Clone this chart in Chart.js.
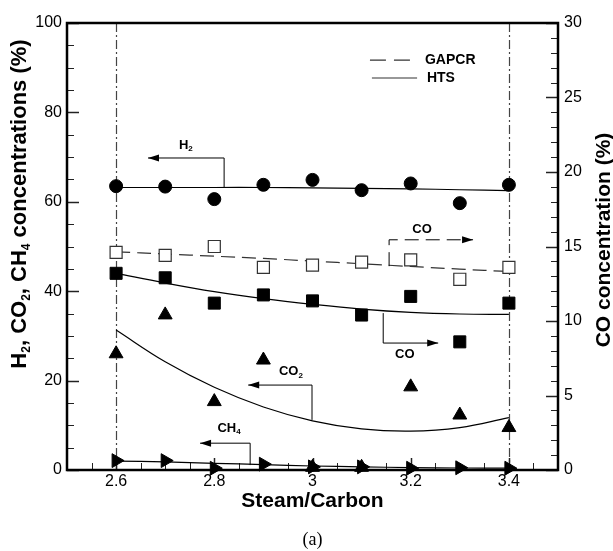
<!DOCTYPE html>
<html>
<head>
<meta charset="utf-8">
<script src="https://cdn.jsdelivr.net/npm/chart.js@4.4.0/dist/chart.umd.min.js"></script>
<style>
  html, body { margin: 0; padding: 0; background: #fff; }
  #wrap { width: 613px; height: 551px; position: relative; }
</style>
</head>
<body>
<div id="wrap"><canvas id="gasChart"></canvas></div>
<script>
// Datos (steam/carbon ratio)
const steamCarbon = [2.6, 2.7, 2.8, 2.9, 3.0, 3.1, 3.2, 3.3, 3.4];

// eje izquierdo (%)
const h2Measured  = [63.5, 63.4, 60.6, 63.8, 64.9, 62.6, 64.1, 59.7, 63.8];
const h2Model     = [63.2, 63.2, 63.2, 63.2, 63.1, 63.0, 62.9, 62.7, 62.5];
const co2Measured = [26.0, 34.7, 15.3, 24.6, 0.6, 0.6, 18.6, 12.3, 9.5];
const co2Model    = [31.3, 24.2, 18.5, 14.1, 11.0, 9.2, 8.7, 9.5, 11.7];
const ch4Measured = [2.1, 2.1, 0.4, 1.3, 0.7, 0.7, 0.4, 0.5, 0.4];
const ch4Model    = [2.0, 1.8, 1.5, 1.2, 0.9, 0.7, 0.55, 0.45, 0.4];

// eje derecho, CO (%)
const coGapcrMeasured = [14.6, 14.4, 15.0, 13.6, 13.75, 13.95, 14.1, 12.8, 13.6];
const coGapcrModel    = [14.64, 14.5, 14.35, 14.2, 14.02, 13.84, 13.66, 13.48, 13.32];
const coHtsMeasured   = [13.2, 12.9, 11.2, 11.75, 11.35, 10.4, 11.65, 8.6, 11.2];
const coHtsModel      = [13.2, 12.55, 11.97, 11.5, 11.12, 10.8, 10.58, 10.47, 10.44];

// ticks
const xTicks = [2.6, 2.8, 3.0, 3.2, 3.4];
const leftTicks = [0, 20, 40, 60, 80, 100];
const rightTicks = [0, 5, 10, 15, 20, 25, 30];

const pts = arr => arr.map((v, i) => ({ x: steamCarbon[i], y: v }));

const FONT = "'Liberation Sans', Arial, sans-serif";

// flechas de anotacion (coordenadas de datos, eje izquierdo)
const notes = [
  { main: 'H',  sub: '2', from: [2.82, 63.1],  corner: [2.82, 69.8],  to: [2.665, 69.8], text: [2.742, 72.7], dashed: false },
  { main: 'CO', sub: '',  from: [3.156, 45.6], corner: [3.156, 51.5], to: [3.327, 51.5], text: [3.223, 53.9], dashed: true },
  { main: 'CO', sub: '',  from: [3.144, 35.1], corner: [3.144, 28.4], to: [3.256, 28.4], text: [3.188, 25.9], dashed: false },
  { main: 'CO', sub: '2', from: [2.999, 11.2], corner: [2.999, 19.0], to: [2.869, 19.0], text: [2.956, 22.0], dashed: false },
  { main: 'CH', sub: '4', from: [2.873, 1.1],  corner: [2.873, 6.0],  to: [2.771, 6.0],  text: [2.83, 9.4],  dashed: false }
];

function richText(ctx, parts, cx, cy, size, subSize) {
  let w = 0;
  parts.forEach(p => {
    ctx.font = 'bold ' + (p.sub ? subSize : size) + 'px ' + FONT;
    p.w = ctx.measureText(p.t).width;
    w += p.w;
  });
  let x = cx - w / 2;
  ctx.textAlign = 'left';
  ctx.textBaseline = 'middle';
  parts.forEach(p => {
    ctx.font = 'bold ' + (p.sub ? subSize : size) + 'px ' + FONT;
    ctx.fillText(p.t, x, cy + (p.sub ? size * 0.3 : 0));
    x += p.w;
  });
}

function arrowHead(ctx, x, y, dir) {
  ctx.beginPath();
  ctx.moveTo(x, y);
  ctx.lineTo(x - dir * 11, y - 3.5);
  ctx.lineTo(x - dir * 11, y + 3.5);
  ctx.closePath();
  ctx.fill();
}

const framePlugin = {
  id: 'frame',
  beforeDatasetsDraw(chart) {
    const { ctx, chartArea: a, scales } = chart;
    const xs = scales.x, yl = scales.yLeft, yr = scales.yRight;
    ctx.save();
    // lineas punto-raya en 2.6 y 3.4
    ctx.strokeStyle = '#444';
    ctx.lineWidth = 1.2;
    ctx.setLineDash([9, 3, 2, 3]);
    [2.6, 3.4].forEach(v => {
      const x = Math.round(xs.getPixelForValue(v)) + 0.5;
      ctx.beginPath(); ctx.moveTo(x, a.top); ctx.lineTo(x, a.bottom); ctx.stroke();
    });
    ctx.setLineDash([]);
    // marcas menores y mayores hacia dentro
    ctx.strokeStyle = '#222';
    for (let i = 0; i <= 20; i++) {
      const v = 2.5 + i * 0.05;
      const major = i % 4 === 2;
      const x = Math.round(xs.getPixelForValue(v)) + 0.5;
      ctx.lineWidth = major ? 1.5 : 1;
      ctx.beginPath(); ctx.moveTo(x, a.bottom); ctx.lineTo(x, a.bottom - (major ? 12 : 7)); ctx.stroke();
    }
    for (let v = 0; v <= 100; v += 5) {
      const y = Math.round(yl.getPixelForValue(v)) + 0.5;
      const major = v % 20 === 0;
      ctx.lineWidth = major ? 1.5 : 1;
      ctx.beginPath(); ctx.moveTo(a.left, y); ctx.lineTo(a.left + (major ? 12 : 7), y); ctx.stroke();
    }
    for (let v = 0; v <= 30; v += 1) {
      const y = Math.round(yr.getPixelForValue(v)) + 0.5;
      const major = v % 5 === 0;
      ctx.lineWidth = major ? 1.5 : 1;
      ctx.beginPath(); ctx.moveTo(a.right, y); ctx.lineTo(a.right - (major ? 12 : 7), y); ctx.stroke();
    }
    // marco
    ctx.strokeStyle = '#000';
    ctx.lineWidth = 2.5;
    ctx.strokeRect(a.left, a.top, a.right - a.left, a.bottom - a.top);
    ctx.restore();
  },
  afterDatasetsDraw(chart) {
    const { ctx, chartArea: a, scales } = chart;
    const xs = scales.x, yl = scales.yLeft;
    const X = v => xs.getPixelForValue(v), Y = v => yl.getPixelForValue(v);
    ctx.save();
    ctx.fillStyle = '#000';
    ctx.strokeStyle = '#000';
    ctx.lineWidth = 1;
    notes.forEach(n => {
      ctx.setLineDash(n.dashed ? [14, 7] : []);
      ctx.beginPath();
      ctx.moveTo(X(n.from[0]), Y(n.from[1]));
      ctx.lineTo(X(n.corner[0]), Y(n.corner[1]));
      ctx.lineTo(X(n.to[0]), Y(n.to[1]));
      ctx.stroke();
      ctx.setLineDash([]);
      arrowHead(ctx, X(n.to[0]), Y(n.to[1]), n.to[0] > n.corner[0] ? 1 : -1);
      const parts = [{ t: n.main, sub: false }];
      if (n.sub) parts.push({ t: n.sub, sub: true });
      richText(ctx, parts, X(n.text[0]), Y(n.text[1]), 13, 8);
    });
    // leyenda
    ctx.strokeStyle = '#333';
    ctx.lineWidth = 1.2;
    ctx.setLineDash([16, 8]);
    ctx.beginPath(); ctx.moveTo(X(3.117), Y(91.7)); ctx.lineTo(X(3.199), Y(91.7)); ctx.stroke();
    ctx.setLineDash([]);
    ctx.beginPath(); ctx.moveTo(X(3.121), Y(87.7)); ctx.lineTo(X(3.213), Y(87.7)); ctx.stroke();
    ctx.font = 'bold 14px ' + FONT;
    ctx.textAlign = 'left';
    ctx.textBaseline = 'middle';
    ctx.fillText('GAPCR', X(3.229), Y(91.7));
    ctx.fillText('HTS', X(3.233), Y(87.7));

    // titulos de ejes
    ctx.font = 'bold 21px ' + FONT;
    ctx.textAlign = 'center';
    ctx.fillText('Steam/Carbon', (a.left + a.right) / 2, 501);
    ctx.save();
    ctx.translate(20, 204);
    ctx.rotate(-Math.PI / 2);
    richText(ctx, [
      { t: 'H' }, { t: '2', sub: true }, { t: ', CO' }, { t: '2', sub: true },
      { t: ', CH' }, { t: '4', sub: true }, { t: ' concentrations (%)' }
    ], 0, 0, 22, 12);
    ctx.restore();
    ctx.save();
    ctx.translate(604, 240);
    ctx.rotate(-Math.PI / 2);
    ctx.font = 'bold 21px ' + FONT;
    ctx.textAlign = 'center';
    ctx.textBaseline = 'middle';
    ctx.fillText('CO concentration (%)', 0, 0);
    ctx.restore();
    ctx.font = "18px 'Liberation Serif', 'Times New Roman', serif";
    ctx.textAlign = 'center';
    ctx.textBaseline = 'middle';
    ctx.fillText('(a)', (a.left + a.right) / 2, 540);
    ctx.restore();
  }
};

const marker = (label, data, axis, style, extra) => Object.assign({
  label: label, data: pts(data), yAxisID: axis, showLine: false,
  pointStyle: style, pointRadius: 6.5, pointBackgroundColor: '#000',
  pointBorderColor: '#000', pointBorderWidth: 1, clip: false
}, extra || {});

const curve = (label, data, axis, dash) => ({
  label: label, data: pts(data), yAxisID: axis, showLine: true,
  borderColor: dash ? '#333' : '#000', borderWidth: 1.2, borderDash: dash || [],
  pointRadius: 0, tension: 0.4, fill: false, clip: false
});

const data = {
  datasets: [
    marker('H2', h2Measured, 'yLeft', 'circle'),
    marker('CO GAPCR', coGapcrMeasured, 'yRight', 'rect', { pointRadius: 8.5, pointBackgroundColor: '#fff', pointBorderColor: '#333', pointBorderWidth: 1.2 }),
    marker('CO HTS', coHtsMeasured, 'yRight', 'rect', { pointRadius: 8.5 }),
    marker('CO2', co2Measured, 'yLeft', 'triangle', { pointRadius: 8 }),
    marker('CH4', ch4Measured, 'yLeft', 'triangle', { pointRadius: 8, pointRotation: 90 }),
    curve('H2 HTS', h2Model, 'yLeft'),
    curve('CO GAPCR model', coGapcrModel, 'yRight', [14, 7]),
    curve('CO HTS model', coHtsModel, 'yRight'),
    curve('CO2 HTS', co2Model, 'yLeft'),
    curve('CH4 HTS', ch4Model, 'yLeft')
  ]
};

const tickFont = { family: FONT, size: 16 };

const config = {
  type: 'scatter',
  data: data,
  options: {
    responsive: true,
    maintainAspectRatio: false,
    animation: false,
    layout: { padding: { top: 23, left: 0, right: 0, bottom: 0 } },
    plugins: { legend: { display: false }, tooltip: { enabled: false } },
    scales: {
      x: {
        type: 'linear', min: 2.5, max: 3.5,
        grid: { display: false, drawTicks: false },
        border: { display: false },
        afterBuildTicks: s => { s.ticks = xTicks.map(v => ({ value: v })); },
        afterFit: s => { s.height = 81; },
        ticks: { color: '#000', font: tickFont, padding: 2, maxRotation: 0, callback: v => String(+v.toFixed(1)) }
      },
      yLeft: {
        type: 'linear', position: 'left', min: 0, max: 100,
        grid: { display: false, drawTicks: false },
        border: { display: false },
        afterBuildTicks: s => { s.ticks = leftTicks.map(v => ({ value: v })); },
        afterFit: s => { s.width = 67; },
        ticks: { color: '#000', font: tickFont, padding: 5 }
      },
      yRight: {
        type: 'linear', position: 'right', min: 0, max: 30,
        grid: { display: false, drawTicks: false },
        border: { display: false },
        afterBuildTicks: s => { s.ticks = rightTicks.map(v => ({ value: v })); },
        afterFit: s => { s.width = 55; },
        ticks: { color: '#000', font: tickFont, padding: 6 }
      }
    }
  },
  plugins: [framePlugin]
};

const ctx = document.getElementById('gasChart').getContext('2d');
const gasChart = new Chart(ctx, config);
</script>
</body>
</html>
